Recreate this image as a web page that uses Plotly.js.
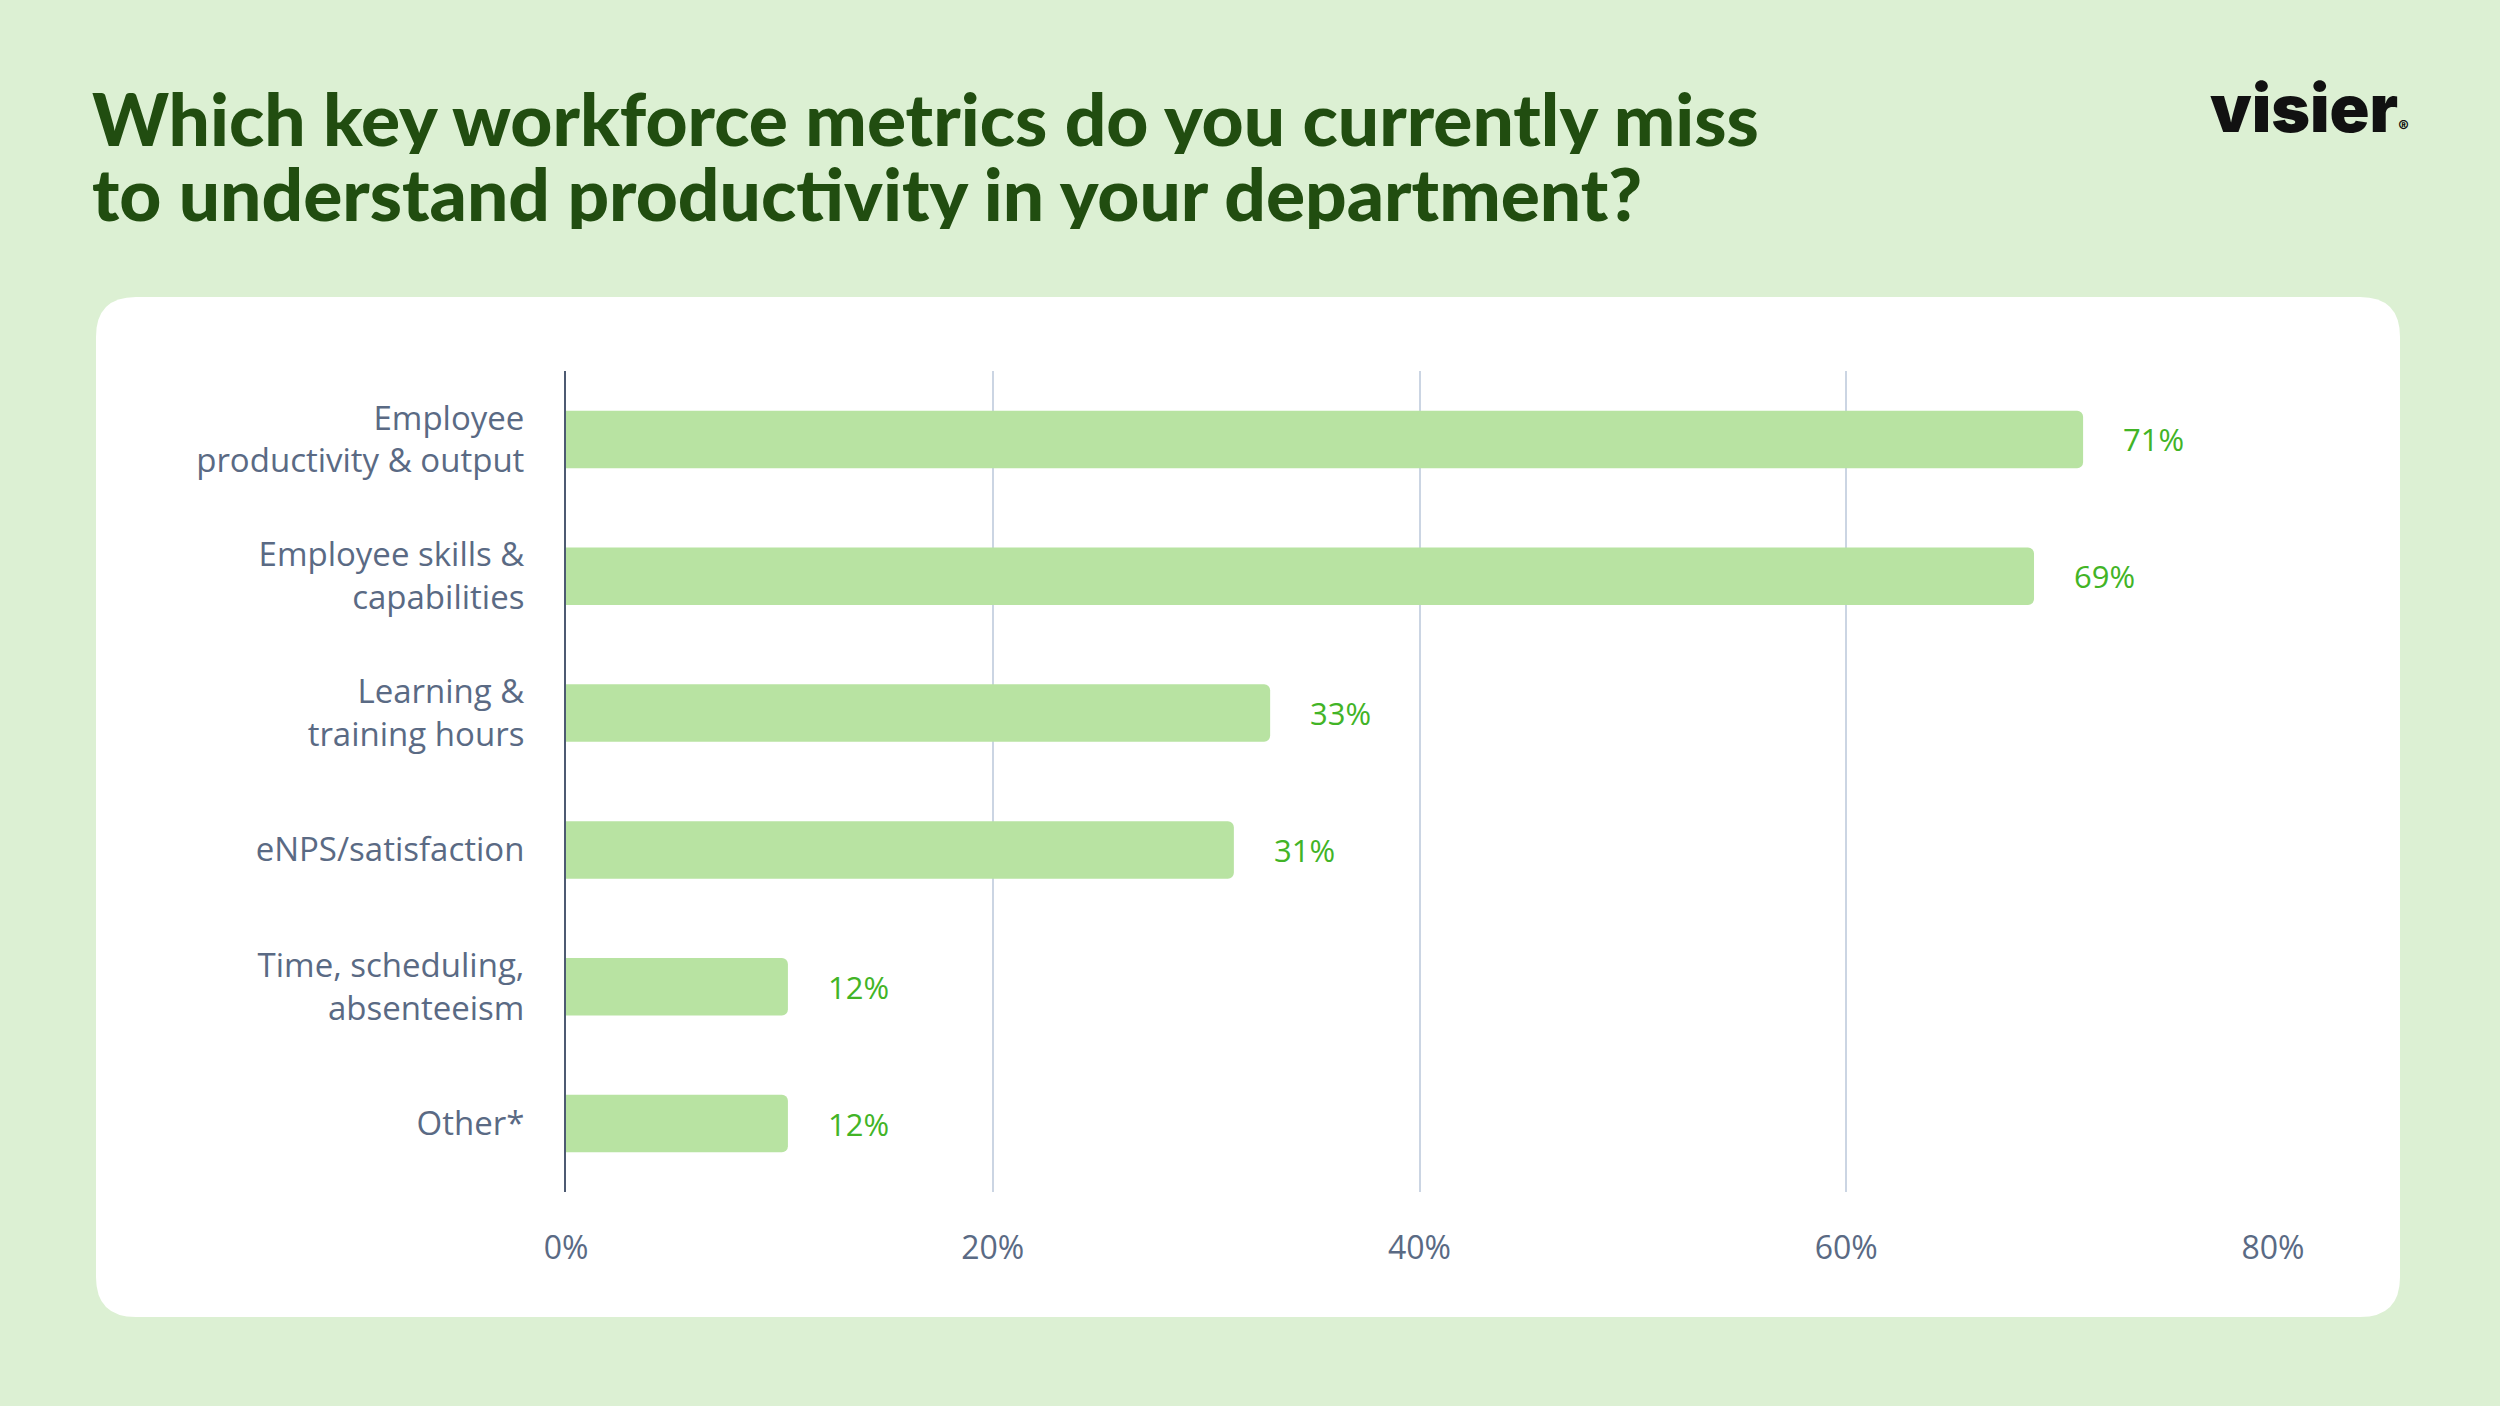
<!DOCTYPE html>
<html>
<head>
<meta charset="utf-8">
<script src="https://cdn.plot.ly/plotly-3.0.1.min.js"></script>
<style>
  html, body { margin: 0; padding: 0; background: #dcf0d3; }
  #chart { width: 2500px; height: 1406px; }
</style>
</head>
<body>
<div id="chart"></div>
<script>
// survey answers, top to bottom
const categories = [
	'Employee<br>productivity & output',
	'Employee skills &<br>capabilities',
	'Learning &<br>training hours',
	'eNPS/satisfaction',
	'Time, scheduling,<br>absenteeism',
	'Other*'
];
// printed labels
const shares = [71, 69, 33, 31, 12, 12];
// bar lengths as drawn in the picture (the 12% bars are drawn a bit short)
const barLengths = [71.1, 68.8, 33.0, 31.3, 10.4, 10.4];
const tickValues = [0, 20, 40, 60, 80];
const tickLabels = tickValues.map(v => v + '%');
const titleLines = [
	'Which key workforce metrics do you currently miss',
	'to understand productivity in your department?'
];

const W = 2500, H = 1406;
const px = x => x / W;
const py = y => 1 - y / H;

// white card with rounded corners, in paper coords (margins are 0)
function roundedRect(x0, y0, x1, y1, r) {
	const rx = r / W, ry = r / H;
	const l = px(x0), rr = px(x1), t = py(y0), b = py(y1);
	return 'M' + (l + rx) + ',' + t +
		' L' + (rr - rx) + ',' + t +
		' Q' + rr + ',' + t + ' ' + rr + ',' + (t - ry) +
		' L' + rr + ',' + (b + ry) +
		' Q' + rr + ',' + b + ' ' + (rr - rx) + ',' + b +
		' L' + (l + rx) + ',' + b +
		' Q' + l + ',' + b + ' ' + l + ',' + (b + ry) +
		' L' + l + ',' + (t - ry) +
		' Q' + l + ',' + t + ' ' + (l + rx) + ',' + t + ' Z';
}

const labelFont = '"Open Sans", "DejaVu Sans", sans-serif';
const titleFont = { family: 'Lato, sans-serif', size: 73, color: '#214d10', weight: 900 };

var trace = {
	type: 'bar',
	orientation: 'h',
	x: barLengths,
	y: categories,
	width: 0.42,
	marker: { color: '#b8e3a2', cornerradius: 6 },
	hoverinfo: 'skip'
};

var valueLabels = categories.map((cat, i) => ({
	x: barLengths[i],
	y: cat,
	xref: 'x',
	yref: 'y',
	text: shares[i] + '%',
	showarrow: false,
	xanchor: 'left',
	yanchor: 'middle',
	xshift: 38,
	font: { family: labelFont, size: 31, color: '#42b426' }
}));

// title drawn as two lines so the line gap matches
var titleNotes = titleLines.map((line, i) => ({
	xref: 'paper', yref: 'paper',
	x: px(90), y: py(118 + i * 75),
	xanchor: 'left', yanchor: 'middle',
	height: 72,
	text: line,
	showarrow: false,
	font: titleFont
}));

var layout = {
	width: W,
	height: H,
	margin: { l: 0, r: 0, t: 0, b: 0 },
	paper_bgcolor: '#dcf0d3',
	plot_bgcolor: 'rgba(0,0,0,0)',
	showlegend: false,
	xaxis: {
		domain: [px(566), px(2273)],
		range: [0, 80],
		tickvals: tickValues,
		ticktext: tickLabels,
		showgrid: true,
		gridcolor: '#cbd5e3',
		gridwidth: 2,
		zeroline: false,
		showline: false,
		ticks: '',
		ticklabelstandoff: 34,
		tickfont: { family: labelFont, size: 32, color: '#5a6a84' },
		fixedrange: true
	},
	yaxis: {
		domain: [py(1192), py(371)],
		type: 'category',
		autorange: 'reversed',
		showgrid: false,
		zeroline: false,
		showline: true,
		linecolor: '#4d5a72',
		linewidth: 2,
		ticks: '',
		ticklabelstandoff: 33,
		tickfont: { family: labelFont, size: 33, color: '#5a6a84' },
		fixedrange: true
	},
	shapes: [{
		type: 'path',
		xref: 'paper',
		yref: 'paper',
		path: roundedRect(96, 297, 2400, 1317, 40),
		fillcolor: '#ffffff',
		line: { width: 0 },
		layer: 'below'
	}],
	annotations: valueLabels.concat(titleNotes, [
		{
			xref: 'paper', yref: 'paper',
			x: px(2208), y: py(108),
			xanchor: 'left', yanchor: 'middle',
			text: 'visier<span style="font-size:16px">®</span>',
			showarrow: false,
			font: { family: 'Inter, "DejaVu Sans", sans-serif', size: 66, color: '#111111', weight: 900 }
		}
	])
};

Plotly.newPlot('chart', [trace], layout, { displayModeBar: false, staticPlot: true });
</script>
</body>
</html>
